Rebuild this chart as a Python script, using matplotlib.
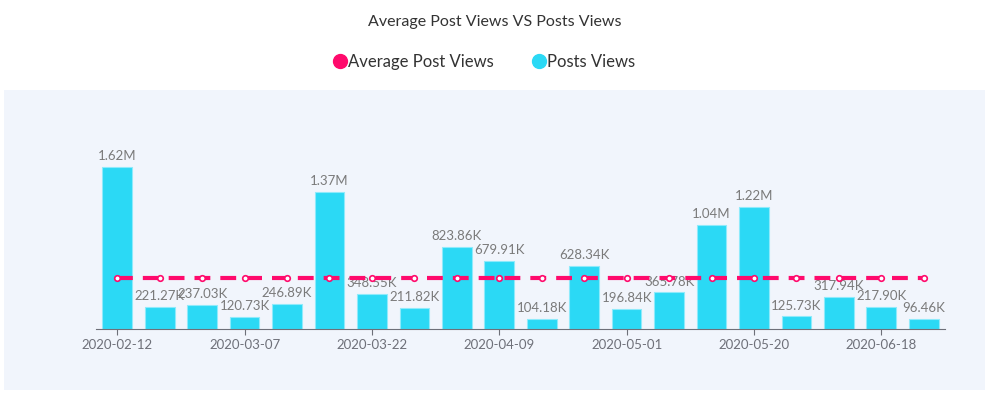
import matplotlib.pyplot as plt
from matplotlib.patches import Rectangle
from matplotlib.lines import Line2D

plt.rcParams['font.family'] = ['Lato', 'DejaVu Sans']

dates = ["2020-02-12", "2020-02-20", "2020-02-28", "2020-03-07", "2020-03-12",
         "2020-03-17", "2020-03-22", "2020-03-28", "2020-04-03", "2020-04-09",
         "2020-04-16", "2020-04-24", "2020-05-01", "2020-05-08", "2020-05-14",
         "2020-05-20", "2020-05-29", "2020-06-08", "2020-06-18", "2020-06-26"]
post_views = [1620000, 221270, 237030, 120730, 246890, 1370000, 348550, 211820,
              823860, 679910, 104180, 628340, 196840, 365780, 1040000, 1220000,
              125730, 317940, 217900, 96460]
avg_views = [509660] * len(dates)

W, H = 989, 393
fig = plt.figure(figsize=(W / 100, H / 100), dpi=100)

# light panel behind the plot
fig.add_artist(Rectangle((4 / W, 1 - 390 / H), 981 / W, 300 / H,
                         transform=fig.transFigure, facecolor="#f1f5fc",
                         edgecolor="none", zorder=0))

ax = fig.add_axes([96 / W, 1 - 329 / H, 849 / W, 200 / H])
ax.patch.set_alpha(0)

x = list(range(len(dates)))
bar_col = "#2bd9f5"
ax.bar(x, post_views, width=0.7, color=bar_col, edgecolor="#8eeafb",
       linewidth=0.8, zorder=2)


def fmt(v):
    if v >= 1e6:
        return f"{v / 1e6:.2f}M"
    return f"{v / 1e3:.2f}K"


for xi, v in zip(x, post_views):
    ax.annotate(fmt(v), (xi, v), xytext=(0, 3.5), textcoords="offset points",
                ha="center", va="bottom", fontsize=9.5, color="#7a7a7a", zorder=3)

pink = "#ff0a6c"
ax.plot(x, avg_views, color=pink, lw=3, linestyle=(0, (3.8, 2.4)),
        marker="o", markersize=4, markerfacecolor="white",
        markeredgecolor=pink, markeredgewidth=1.2, zorder=4)

ax.set_xlim(-0.5, len(dates) - 0.5)
ax.set_ylim(0, 2000000)
ax.set_yticks([])
for s in ["top", "right", "left"]:
    ax.spines[s].set_visible(False)
ax.spines["bottom"].set_color("#6e7079")
ticks = x[::3]
ax.set_xticks(ticks)
ax.set_xticklabels([dates[i] for i in ticks], fontsize=9.5, color="#6e7079")
ax.tick_params(axis="x", length=4, color="#6e7079", pad=3)

fig.text(0.5, 1 - 22 / H, "Average Post Views VS Posts Views", ha="center",
         va="center", fontsize=11.5, color="#333333")

handles = [Line2D([], [], linestyle="none", marker="o", markersize=10,
                  color=pink),
           Line2D([], [], linestyle="none", marker="o", markersize=10,
                  color=bar_col)]
fig.legend(handles, ["Average Post Views", "Posts Views"], loc="center",
           bbox_to_anchor=(0.489, 1 - 62 / H), ncol=2, frameon=False,
           fontsize=12, handletextpad=0.0, columnspacing=2.2,
           handlelength=1.0, labelcolor="#333333")

fig.savefig("out.png", dpi=100)
